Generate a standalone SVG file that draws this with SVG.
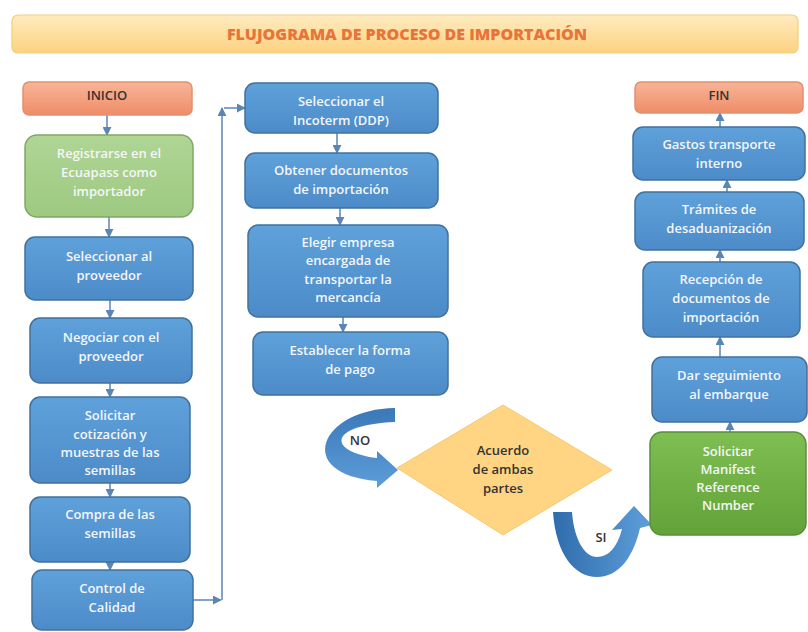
<svg xmlns="http://www.w3.org/2000/svg" width="808" height="632" viewBox="0 0 808 632">
<defs>
<linearGradient id="gBlue" x1="0" y1="0" x2="0" y2="1"><stop offset="0" stop-color="#5FA1DB"/><stop offset="1" stop-color="#4C8BC8"/></linearGradient>
<linearGradient id="gGreen1" x1="0" y1="0" x2="0" y2="1"><stop offset="0" stop-color="#B0D595"/><stop offset="1" stop-color="#9DC981"/></linearGradient>
<linearGradient id="gGreen2" x1="0" y1="0" x2="0" y2="1"><stop offset="0" stop-color="#7FBE52"/><stop offset="1" stop-color="#62A238"/></linearGradient>
<linearGradient id="gSalmon" x1="0" y1="0" x2="0" y2="1"><stop offset="0" stop-color="#F7B597"/><stop offset="1" stop-color="#F08C68"/></linearGradient>
<linearGradient id="gTitle" x1="0" y1="0" x2="0" y2="1"><stop offset="0" stop-color="#FFEBC0"/><stop offset="1" stop-color="#FDD27F"/></linearGradient>
<linearGradient id="gArrowNo" x1="0" y1="0" x2="0" y2="1"><stop offset="0" stop-color="#3A78B8"/><stop offset="1" stop-color="#5D9DD8"/></linearGradient>
<linearGradient id="gArrowSi" x1="0" y1="0" x2="1" y2="0"><stop offset="0" stop-color="#2F6CAC"/><stop offset="1" stop-color="#5E9FDA"/></linearGradient>
<marker id="ah" viewBox="0 0 10 10" refX="9" refY="5" markerWidth="6" markerHeight="6" orient="auto"><path d="M0,0 L10,5 L0,10 z" fill="#5A86B6"/></marker>
</defs>
<style>
.box{fill:url(#gBlue);stroke:#41719C;stroke-width:1.5}
.g1{fill:url(#gGreen1);stroke:#7FA866;stroke-width:1.5}
.g2{fill:url(#gGreen2);stroke:#5A8F3A;stroke-width:1.5}
.sal{fill:url(#gSalmon);stroke:#E2906F;stroke-width:1.5}
.t{font-family:"Open Sans","Liberation Sans",sans-serif;font-size:13px;font-weight:600;fill:#F4F6F8;text-anchor:middle}
.td{font-family:"Open Sans","Liberation Sans",sans-serif;font-size:13px;font-weight:600;fill:#333333;text-anchor:middle}
.c{fill:none;stroke:#5A86B6;stroke-width:1.5;marker-end:url(#ah)}
</style>
<rect width="808" height="632" fill="#FFFFFF"/>

<g id="title">
<rect x="12" y="15" width="786" height="38" rx="6" fill="url(#gTitle)" stroke="#F2CF7A" stroke-width="1.2"/>
<text x="407" y="40" font-family="Open Sans,Liberation Sans,sans-serif" font-size="16" font-weight="800" fill="#E9743A" text-anchor="middle">FLUJOGRAMA DE PROCESO DE IMPORTACIÓN</text>
</g>

<g id="connectors">
<line class="c" x1="107" y1="115" x2="107" y2="135"/>
<line class="c" x1="109" y1="217" x2="109" y2="237"/>
<line class="c" x1="110" y1="300" x2="110" y2="318"/>
<line class="c" x1="110" y1="383" x2="110" y2="397"/>
<line class="c" x1="110" y1="483" x2="110" y2="497"/>
<line class="c" x1="110" y1="562" x2="110" y2="570"/>
<line class="c" x1="193" y1="600" x2="221" y2="600"/>
<line class="c" x1="222" y1="600" x2="222" y2="108"/>
<line class="c" x1="224" y1="108" x2="245" y2="108"/>
<line class="c" x1="337" y1="133" x2="337" y2="153"/>
<line class="c" x1="340" y1="208" x2="340" y2="225"/>
<line class="c" x1="343" y1="317" x2="343" y2="332"/>
<line class="c" x1="730" y1="432" x2="730" y2="422"/>
<line class="c" x1="720" y1="357" x2="720" y2="337"/>
<line class="c" x1="720" y1="262" x2="720" y2="250"/>
<line class="c" x1="727" y1="192" x2="727" y2="180"/>
<line class="c" x1="720" y1="127" x2="720" y2="113"/>
<g id="arrow-no">
<path d="M 395 408 C 320 409, 293 474, 377 481 L 377 488 L 398 470 L 377 451 L 377 458 C 328 452, 326 425, 395 422 Z" fill="url(#gArrowNo)"/>
<text class="td" x="360" y="445">NO</text>
</g>
<g id="arrow-si">
<path d="M 553 512 C 556 555, 575 577, 597 577 C 620 577, 634 555, 640 528 L 652 525 L 634 506 L 612 530 L 622 529 C 617 548, 608 557, 597 557 C 585 557, 574 540, 572 512 Z" fill="url(#gArrowSi)"/>
<text class="td" x="601" y="542">SI</text>
</g>
</g>

<g id="inicio"><rect class="sal" x="23" y="82" width="169" height="33" rx="6"/><text class="td" x="107" y="100">INICIO</text></g>
<g id="registrarse"><rect class="g1" x="25" y="135" width="168" height="82" rx="12"/>
<text class="t" x="109" y="158">Registrarse en el</text><text class="t" x="109" y="177">Ecuapass como</text><text class="t" x="109" y="196">importador</text></g>
<g id="seleccionar"><rect class="box" x="25" y="237" width="168" height="63" rx="10"/>
<text class="t" x="109" y="261">Seleccionar al</text><text class="t" x="109" y="280">proveedor</text></g>
<g id="negociar"><rect class="box" x="30" y="318" width="162" height="65" rx="10"/>
<text class="t" x="111" y="342">Negociar con el</text><text class="t" x="111" y="361">proveedor</text></g>
<g id="solicitar"><rect class="box" x="30" y="397" width="160" height="86" rx="10"/>
<text class="t" x="110" y="420">Solicitar</text><text class="t" x="110" y="439">cotización y</text><text class="t" x="110" y="457">muestras de las</text><text class="t" x="110" y="475">semillas</text></g>
<g id="compra"><rect class="box" x="30" y="497" width="160" height="65" rx="10"/>
<text class="t" x="110" y="519">Compra de las</text><text class="t" x="110" y="538">semillas</text></g>
<g id="control"><rect class="box" x="32" y="570" width="161" height="60" rx="10"/>
<text class="t" x="112" y="593">Control de</text><text class="t" x="112" y="612">Calidad</text></g>

<g id="incoterm"><rect class="box" x="245" y="83" width="193" height="50" rx="10"/>
<text class="t" x="341" y="106">Seleccionar el</text><text class="t" x="341" y="125">Incoterm (DDP)</text></g>
<g id="obtener"><rect class="box" x="245" y="153" width="193" height="55" rx="10"/>
<text class="t" x="341" y="175">Obtener documentos</text><text class="t" x="341" y="194">de importación</text></g>
<g id="elegir"><rect class="box" x="248" y="225" width="200" height="92" rx="10"/>
<text class="t" x="348" y="247">Elegir empresa</text><text class="t" x="348" y="265">encargada de</text><text class="t" x="348" y="284">transportar la</text><text class="t" x="348" y="302">mercancía</text></g>
<g id="establecer"><rect class="box" x="253" y="332" width="195" height="63" rx="10"/>
<text class="t" x="350" y="355">Establecer la forma</text><text class="t" x="350" y="374">de pago</text></g>

<g id="acuerdo"><polygon points="397,468 503,405 612,470 503,535" fill="#FFD482" stroke="#F5C870" stroke-width="1"/>
<text class="td" x="503" y="455">Acuerdo</text><text class="td" x="503" y="474">de ambas</text><text class="td" x="503" y="493">partes</text></g>

<g id="fin"><rect class="sal" x="635" y="82" width="168" height="31" rx="6"/><text class="td" x="719" y="100">FIN</text></g>
<g id="gastos"><rect class="box" x="633" y="127" width="172" height="53" rx="10"/>
<text class="t" x="719" y="149">Gastos transporte</text><text class="t" x="719" y="168">interno</text></g>
<g id="tramites"><rect class="box" x="635" y="192" width="169" height="58" rx="10"/>
<text class="t" x="719" y="214">Trámites de</text><text class="t" x="719" y="233">desaduanización</text></g>
<g id="recepcion"><rect class="box" x="643" y="262" width="157" height="75" rx="10"/>
<text class="t" x="721" y="284">Recepción de</text><text class="t" x="721" y="303">documentos de</text><text class="t" x="721" y="322">importación</text></g>
<g id="seguimiento"><rect class="box" x="652" y="357" width="155" height="65" rx="10"/>
<text class="t" x="729" y="380">Dar seguimiento</text><text class="t" x="729" y="399">al embarque</text></g>
<g id="manifest"><rect class="g2" x="650" y="432" width="156" height="103" rx="12"/>
<text class="t" x="728" y="456">Solicitar</text><text class="t" x="728" y="474">Manifest</text><text class="t" x="728" y="492">Reference</text><text class="t" x="728" y="510">Number</text></g>
</svg>
